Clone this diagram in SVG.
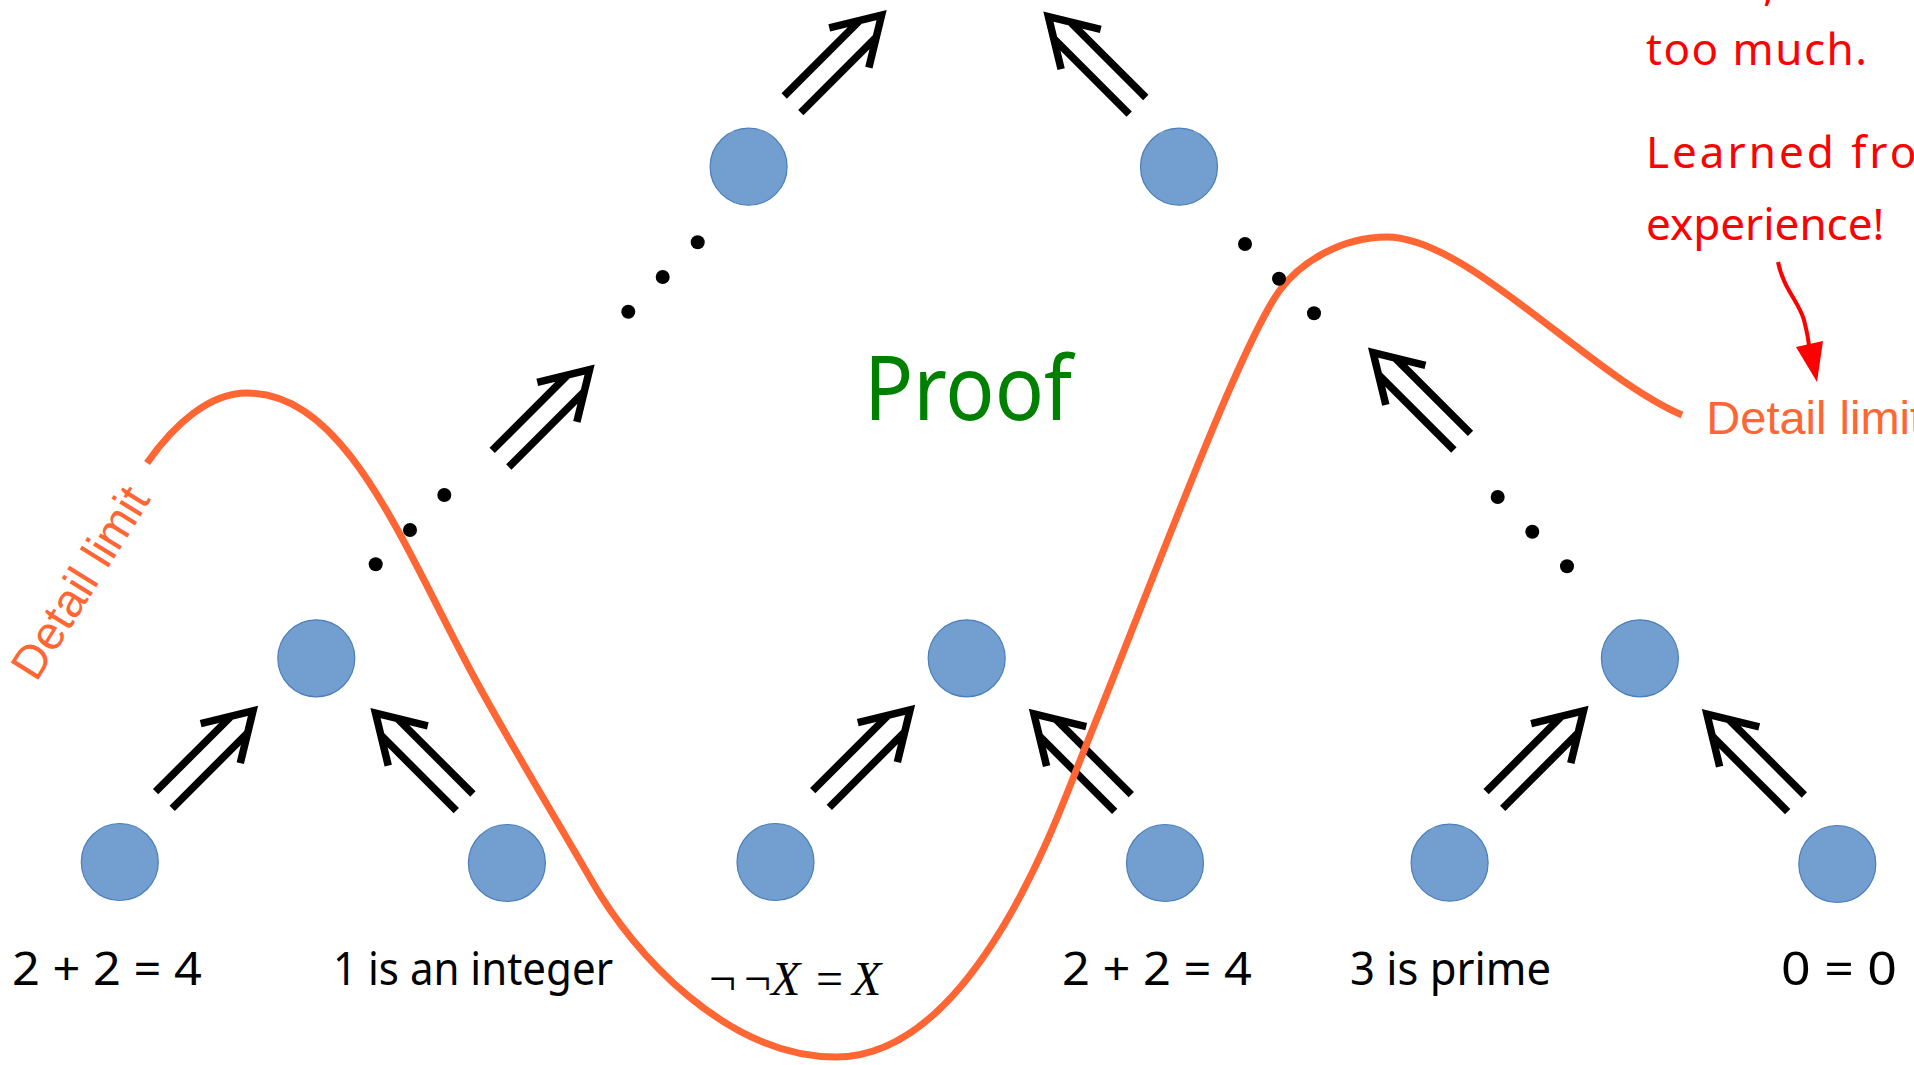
<svg xmlns="http://www.w3.org/2000/svg" xmlns:xlink="http://www.w3.org/1999/xlink" width="1914" height="1065" viewBox="0 0 1914 1065">
<style>
.node{fill:#729fcf;stroke:#4a7ebb;stroke-width:1.2}
.dot{fill:#000}
.lbl{font-family:"Noto Sans","Open Sans",sans-serif;font-size:45px;fill:#000}
.math{font-family:"Liberation Serif","Times New Roman",serif;font-size:48px;fill:#000}
.lim{font-family:"Liberation Sans",Arial,sans-serif;font-size:47px;fill:#ff6633}
.hand{font-family:"Noto Sans","Open Sans",sans-serif;font-size:44px;fill:#ff0000}
.curve{fill:none;stroke:#ff6633;stroke-width:7}
</style>
<defs>
<path id="dbl" d="M0,-11.75H107M0,11.75H107M80,-28L126,0L80,28" fill="none" stroke="#000" stroke-width="7.5" stroke-linejoin="miter"/>
</defs>
<rect width="1914" height="1065" fill="#fff"/>
<g id="connectors">
<use xlink:href="#dbl" transform="translate(163.9,800) rotate(-45)"/>
<use xlink:href="#dbl" transform="translate(464.6,802.3) rotate(-135)"/>
<use xlink:href="#dbl" transform="translate(821,799) rotate(-45)"/>
<use xlink:href="#dbl" transform="translate(1123,803) rotate(-135)"/>
<use xlink:href="#dbl" transform="translate(1494.4,800) rotate(-45)"/>
<use xlink:href="#dbl" transform="translate(1796,803.3) rotate(-135)"/>
<use xlink:href="#dbl" transform="translate(500.5,458.7) rotate(-45)"/>
<use xlink:href="#dbl" transform="translate(1462.2,441.7) rotate(-135)"/>
<use xlink:href="#dbl" transform="translate(792.5,104.3) rotate(-45)"/>
<use xlink:href="#dbl" transform="translate(1137.5,105.8) rotate(-135)"/>
</g>
<g id="detail-limit-curve">
<path class="curve" d="M147,463 C175,423 210,393 247,393 C347,393 402.6,545 474,677 C509,741.7 553,813.7 593,883 C633,952.3 726,1057 836,1057 C976,1057 1060.3,808.6 1083,753 C1147.3,595.6 1238.6,346.6 1280,290 C1300.7,261.8 1342,237 1387,237 C1467,237 1590.1,375.6 1682,415"/>
<text class="lim" x="1706.3" y="434">Detail limit</text>
<text class="lim" transform="translate(36.3,683.1) rotate(-58)">Detail limit</text>
</g>
<g id="ellipses">
<circle class="dot" cx="375.7" cy="564.3" r="7"/>
<circle class="dot" cx="410" cy="530" r="7"/>
<circle class="dot" cx="444.3" cy="495" r="7"/>
<circle class="dot" cx="628.3" cy="311.7" r="7"/>
<circle class="dot" cx="662.7" cy="277" r="7"/>
<circle class="dot" cx="697.7" cy="242.3" r="7"/>
<circle class="dot" cx="1245" cy="244" r="7"/>
<circle class="dot" cx="1279" cy="278.7" r="7"/>
<circle class="dot" cx="1314" cy="313.3" r="7"/>
<circle class="dot" cx="1497.7" cy="497" r="7"/>
<circle class="dot" cx="1532.3" cy="531.7" r="7"/>
<circle class="dot" cx="1567" cy="566.3" r="7"/>
</g>
<g id="node-top-left"><circle class="node" cx="748.6" cy="166.7" r="38.5"/></g>
<g id="node-top-right"><circle class="node" cx="1179" cy="166.7" r="38.5"/></g>
<g id="node-mid-left"><circle class="node" cx="316.3" cy="658.3" r="38.5"/></g>
<g id="node-mid-center"><circle class="node" cx="966.7" cy="658.3" r="38.5"/></g>
<g id="node-mid-right"><circle class="node" cx="1639.9" cy="658.3" r="38.5"/></g>
<g id="node-b1"><circle class="node" cx="119.8" cy="862" r="38.5"/><text class="lbl" x="12" y="985" textLength="190" lengthAdjust="spacingAndGlyphs">2 + 2 = 4</text></g>
<g id="node-b2"><circle class="node" cx="506.9" cy="863" r="38.5"/><text class="lbl" x="333" y="985" textLength="280" lengthAdjust="spacingAndGlyphs">1 is an integer</text></g>
<g id="node-b3"><circle class="node" cx="775.5" cy="862" r="38.5"/><text class="math" y="995"><tspan x="709">¬</tspan><tspan x="744">¬</tspan><tspan x="771" font-style="italic">X</tspan><tspan x="816">=</tspan><tspan x="852" font-style="italic">X</tspan></text></g>
<g id="node-b4"><circle class="node" cx="1165" cy="863" r="38.5"/><text class="lbl" x="1062" y="985" textLength="190" lengthAdjust="spacingAndGlyphs">2 + 2 = 4</text></g>
<g id="node-b5"><circle class="node" cx="1449.6" cy="862.7" r="38.5"/><text class="lbl" x="1350" y="985" textLength="201" lengthAdjust="spacingAndGlyphs">3 is prime</text></g>
<g id="node-b6"><circle class="node" cx="1837.3" cy="864" r="38.5"/><text class="lbl" x="1781" y="985" textLength="116" lengthAdjust="spacingAndGlyphs">0 = 0</text></g>
<g id="title"><text x="864" y="420" font-family="'Noto Sans','Open Sans',sans-serif" font-size="90" fill="#008000" textLength="208" lengthAdjust="spacingAndGlyphs">Proof</text></g>
<g id="note">
<text class="hand" x="1763" y="0">,</text>
<text class="hand" x="1646" y="65" letter-spacing="1.5">too much.</text>
<text class="hand" x="1646" y="168" letter-spacing="3">Learned from</text>
<text class="hand" x="1646" y="240">experience!</text>
<path d="M1778,262 C1783,288 1799,302 1804,320 C1807,332 1809,340 1809,348" fill="none" stroke="#ff0000" stroke-width="4"/>
<polygon points="1796,347 1823,341 1817,382" fill="#ff0000"/>
</g>
</svg>
